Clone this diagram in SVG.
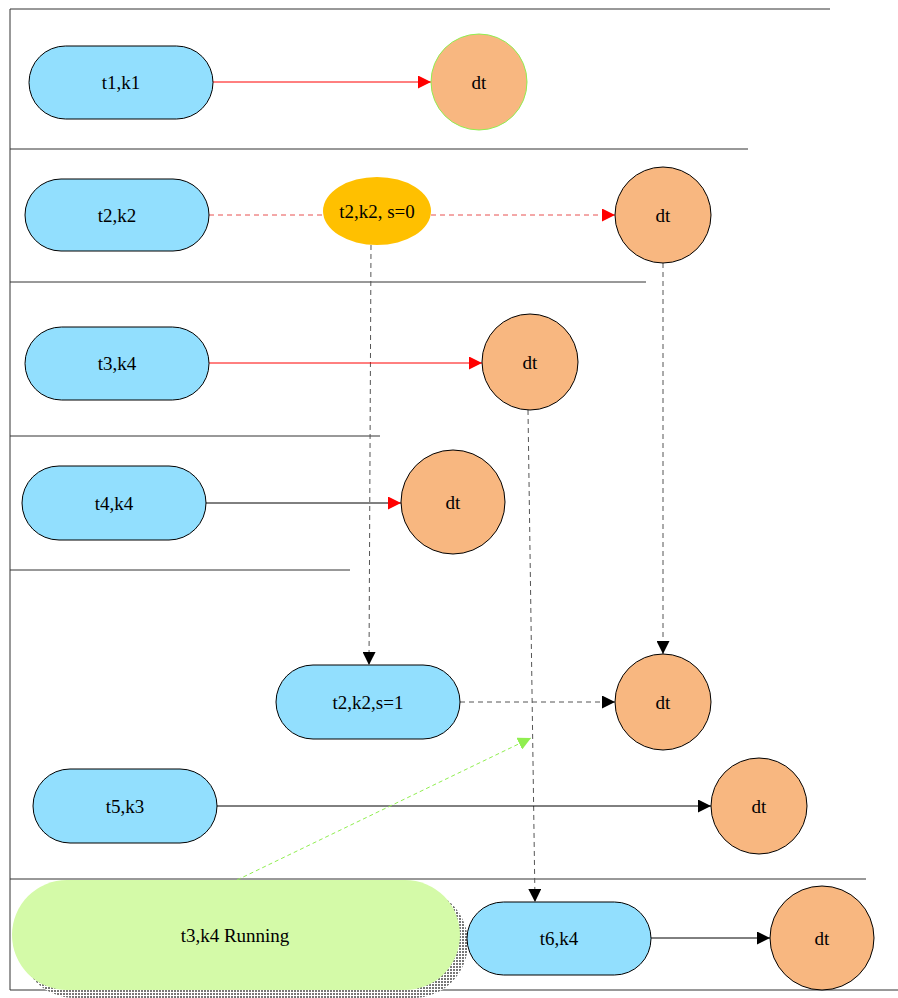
<svg xmlns="http://www.w3.org/2000/svg" width="898" height="998" viewBox="0 0 898 998">
<style>
.lane{stroke:#333;stroke-width:1;fill:none}
.term{fill:#92DFFE;stroke:#000;stroke-width:1}
.dt{fill:#F8B780;stroke:#000;stroke-width:1}
.lbl{font-family:"Liberation Serif","Times New Roman","DejaVu Serif",serif;font-size:19px;fill:#000;text-anchor:middle;dominant-baseline:central}
.red{stroke:#FF0000;stroke-width:1;fill:none}
.reddash{stroke:#E85050;stroke-width:1;fill:none;stroke-dasharray:5,4}
.gdash{stroke:#555;stroke-width:1;fill:none;stroke-dasharray:5,4}
.blk{stroke:#000;stroke-width:1;fill:none}
.lgdash{stroke:#90EE50;stroke-width:1;fill:none;stroke-dasharray:4,3}
</style>
<defs>
<marker id="aRed" viewBox="0 0 10 10" refX="10" refY="5" markerWidth="13" markerHeight="13" markerUnits="userSpaceOnUse" orient="auto"><path d="M0,0 L10,5 L0,10 Z" fill="#FF0000"/></marker>
<marker id="aBlk" viewBox="0 0 10 10" refX="10" refY="5" markerWidth="13" markerHeight="13" markerUnits="userSpaceOnUse" orient="auto"><path d="M0,0 L10,5 L0,10 Z" fill="#000"/></marker>
<marker id="aGrn" viewBox="0 0 10 10" refX="10" refY="5" markerWidth="13" markerHeight="13" markerUnits="userSpaceOnUse" orient="auto"><path d="M0,0 L10,5 L0,10 Z" fill="#90EE50"/></marker>
<pattern id="dots" width="3" height="3" patternUnits="userSpaceOnUse"><rect width="3" height="3" fill="#fff"/><rect width="2" height="2" fill="#777"/></pattern>
</defs>
<g id="frame">
<line class="lane" x1="10" y1="9" x2="830" y2="9"/>
<line class="lane" x1="10" y1="9" x2="10" y2="990"/>
<line class="lane" x1="10" y1="990" x2="898" y2="990"/>
<line class="lane" x1="10" y1="149" x2="748" y2="149"/>
<line class="lane" x1="10" y1="282" x2="646" y2="282"/>
<line class="lane" x1="10" y1="436" x2="380" y2="436"/>
<line class="lane" x1="10" y1="570" x2="350" y2="570"/>
<line class="lane" x1="10" y1="879" x2="866" y2="879"/>
</g>
<g id="connectors">
<line class="red" x1="213" y1="82" x2="431" y2="82" marker-end="url(#aRed)"/>
<line class="reddash" x1="209" y1="215" x2="323" y2="215"/>
<line class="reddash" x1="431" y1="215" x2="615" y2="215" marker-end="url(#aRed)"/>
<line class="gdash" x1="371" y1="245" x2="369" y2="665" marker-end="url(#aBlk)"/>
<line class="gdash" x1="663" y1="263" x2="663" y2="654" marker-end="url(#aBlk)"/>
<line class="red" x1="209" y1="363" x2="482" y2="363" marker-end="url(#aRed)"/>
<line class="gdash" x1="528" y1="410" x2="535" y2="902" marker-end="url(#aBlk)"/>
<line class="blk" x1="206" y1="503" x2="401" y2="503" marker-end="url(#aRed)"/>
<line class="gdash" x1="460" y1="702" x2="615" y2="702" marker-end="url(#aBlk)"/>
<line class="blk" x1="217" y1="806" x2="711" y2="806" marker-end="url(#aBlk)"/>
<line class="lgdash" x1="237" y1="880" x2="531" y2="738" marker-end="url(#aGrn)"/>
<line class="blk" x1="651" y1="938" x2="770" y2="938" marker-end="url(#aBlk)"/>
</g>
<g id="n_t1k1"><rect class="term" x="29" y="46" width="184" height="73" rx="36.5"/><text class="lbl" x="121" y="82">t1,k1</text></g>
<g id="n_dt1"><circle cx="479" cy="82" r="48" fill="#F8B780" stroke="#90EE50" stroke-width="1"/><text class="lbl" x="479" y="82">dt</text></g>
<g id="n_t2k2"><rect class="term" x="25" y="179" width="184" height="72" rx="36"/><text class="lbl" x="117" y="215">t2,k2</text></g>
<g id="n_s0"><ellipse cx="377" cy="211" rx="54" ry="34" fill="#FFC000"/><text class="lbl" x="377" y="211">t2,k2, s=0</text></g>
<g id="n_dt2"><circle class="dt" cx="663" cy="215" r="48"/><text class="lbl" x="663" y="215">dt</text></g>
<g id="n_t3k4"><rect class="term" x="25" y="327" width="184" height="73" rx="36.5"/><text class="lbl" x="117" y="363">t3,k4</text></g>
<g id="n_dt3"><circle class="dt" cx="530" cy="362" r="48"/><text class="lbl" x="530" y="362">dt</text></g>
<g id="n_t4k4"><rect class="term" x="22" y="466" width="184" height="74" rx="37"/><text class="lbl" x="114" y="503">t4,k4</text></g>
<g id="n_dt4"><circle class="dt" cx="453" cy="502" r="52"/><text class="lbl" x="453" y="502">dt</text></g>
<g id="n_s1"><rect class="term" x="276" y="665" width="184" height="74" rx="37"/><text class="lbl" x="368" y="702">t2,k2,s=1</text></g>
<g id="n_dt5"><circle class="dt" cx="663" cy="702" r="48"/><text class="lbl" x="663" y="702">dt</text></g>
<g id="n_t5k3"><rect class="term" x="33" y="769" width="184" height="74" rx="37"/><text class="lbl" x="125" y="806">t5,k3</text></g>
<g id="n_dt6"><circle class="dt" cx="759" cy="806" r="48"/><text class="lbl" x="759" y="806">dt</text></g>
<g id="n_running"><rect x="20" y="888" width="448" height="110" rx="55" fill="url(#dots)"/><rect x="12" y="880" width="448" height="110" rx="55" fill="#D4FAA8"/><text class="lbl" x="235" y="935">t3,k4 Running</text></g>
<g id="n_t6k4"><rect class="term" x="467" y="902" width="184" height="73" rx="36.5"/><text class="lbl" x="559" y="938">t6,k4</text></g>
<g id="n_dt7"><circle class="dt" cx="822" cy="938" r="52"/><text class="lbl" x="822" y="938">dt</text></g>
</svg>
